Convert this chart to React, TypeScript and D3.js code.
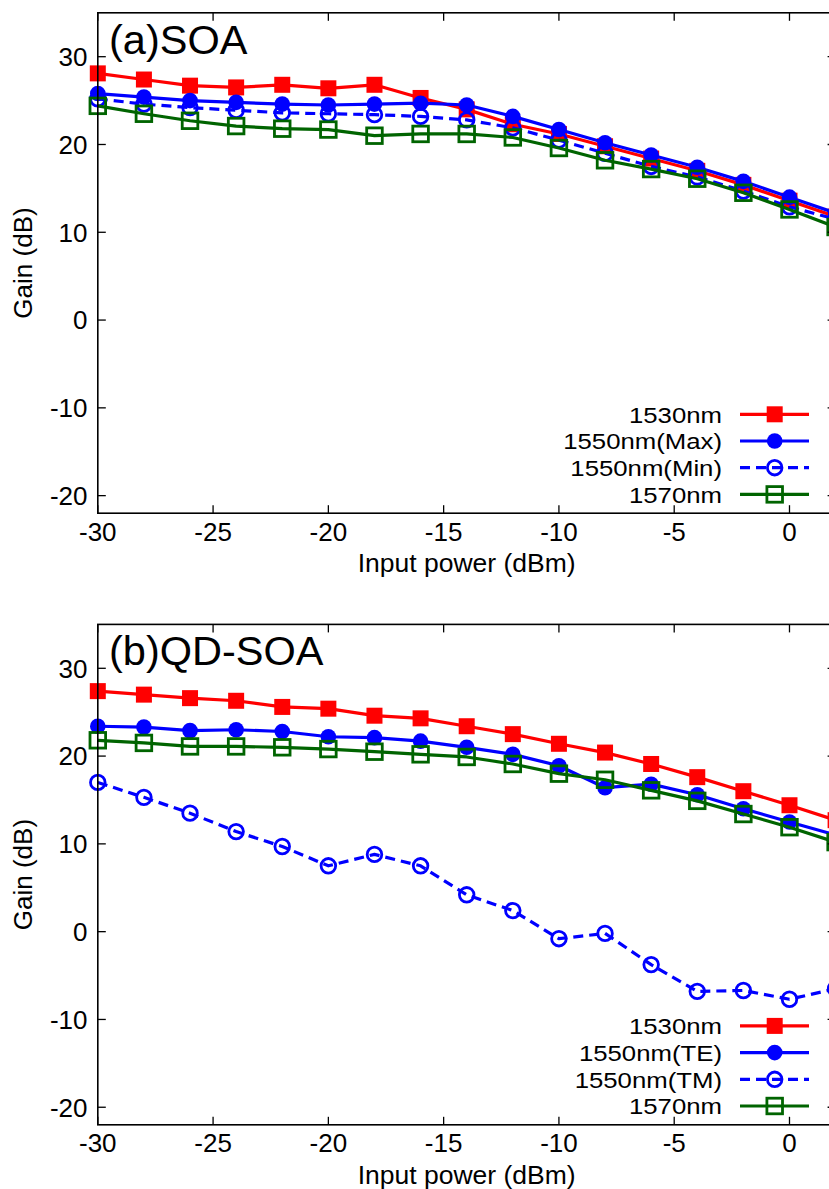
import React from "react";
import * as d3 from "d3";

const X = [-30, -28, -26, -24, -22, -20, -18, -16, -14, -12, -10, -8, -6, -4, -2, 0, 2];

// Panel (a) SOA
const soa1530 = [28.1, 27.4, 26.7, 26.5, 26.8, 26.4, 26.8, 25.3, 24.0, 22.3, 21.2, 19.8, 18.4, 17.0, 15.4, 13.6, 11.8];
const soa1550Max = [25.8, 25.4, 25.0, 24.8, 24.6, 24.5, 24.6, 24.7, 24.5, 23.2, 21.7, 20.2, 18.8, 17.4, 15.8, 14.0, 12.2];
const soa1550Min = [25.2, 24.6, 24.2, 23.9, 23.6, 23.5, 23.4, 23.2, 22.8, 21.9, 20.5, 19.0, 17.5, 16.3, 14.7, 12.9, 11.5];
const soa1570 = [24.4, 23.5, 22.7, 22.1, 21.8, 21.7, 21.0, 21.2, 21.2, 20.8, 19.6, 18.2, 17.2, 16.1, 14.5, 12.6, 10.6];

// Panel (b) QD-SOA
const qd1530 = [27.4, 27.0, 26.6, 26.3, 25.6, 25.4, 24.6, 24.3, 23.4, 22.5, 21.4, 20.4, 19.1, 17.6, 16.0, 14.4, 12.7];
const qd1550TE = [23.4, 23.3, 22.9, 23.0, 22.8, 22.2, 22.1, 21.7, 21.0, 20.2, 18.9, 16.4, 16.8, 15.6, 14.0, 12.5, 11.0];
const qd1550TM = [17.0, 15.3, 13.5, 11.4, 9.7, 7.5, 8.8, 7.5, 4.2, 2.4, -0.8, -0.2, -3.75, -6.8, -6.7, -7.7, -6.5];
const qd1570 = [21.8, 21.5, 21.1, 21.1, 21.0, 20.8, 20.5, 20.2, 19.9, 19.1, 18.0, 17.3, 16.1, 14.9, 13.4, 11.9, 10.2];

const xTicks = [-30, -25, -20, -15, -10, -5, 0];
const yTicks = [-20, -10, 0, 10, 20, 30];

const legendA = ["1530nm", "1550nm(Max)", "1550nm(Min)", "1570nm"];
const legendB = ["1530nm", "1550nm(TE)", "1550nm(TM)", "1570nm"];

const RED = "#ff0000";
const BLUE = "#0000ff";
const GREEN = "#006400";
const FONT = "'Liberation Sans', Arial, Helvetica, sans-serif";

type Kind = "fsquare" | "fcircle" | "ocircle" | "osquare";

function Marker({ kind, x, y, color }: { kind: Kind; x: number; y: number; color: string }) {
  if (kind === "fsquare") return <rect x={x - 8} y={y - 8} width={16} height={16} fill={color} />;
  if (kind === "fcircle") return <circle cx={x} cy={y} r={7.8} fill={color} />;
  if (kind === "ocircle") return <circle cx={x} cy={y} r={7.3} fill="none" stroke={color} strokeWidth={2.8} />;
  return <rect x={x - 7.8} y={y - 7.8} width={15.6} height={15.6} fill="none" stroke={color} strokeWidth={2.8} />;
}

type Series = { values: number[]; color: string; kind: Kind; dashed: boolean };

function Panel({ offset, title, labels, series }: { offset: number; title: string; labels: string[]; series: Series[] }) {
  const left = 97.8, right = 835.6, top = 12.8 + offset, bottom = 513.2 + offset;
  const x = d3.scaleLinear().domain([-30, 2]).range([left, right]);
  const y = d3.scaleLinear().domain([-22, 35]).range([bottom, top]);
  const line = d3.line<number>().x((_, i) => x(X[i])).y((v) => y(v));
  const legY = (i: number) => 414.3 + offset + i * 26.7;
  return (
    <g>
      {series.map((s, si) => (
        <g key={si}>
          <path d={line(s.values) || ""} fill="none" stroke={s.color} strokeWidth={3.2}
            strokeDasharray={s.dashed ? "10,6" : undefined} strokeLinejoin="round" />
          {s.values.map((v, i) => (
            <Marker key={i} kind={s.kind} x={x(X[i])} y={y(v)} color={s.color} />
          ))}
        </g>
      ))}
      <rect x={left} y={top} width={right - left} height={bottom - top} fill="none" stroke="#000" strokeWidth={1.6} />
      {xTicks.map((t) => (
        <g key={"x" + t}>
          <line x1={x(t)} x2={x(t)} y1={bottom} y2={bottom - 8} stroke="#000" strokeWidth={1.3} />
          <line x1={x(t)} x2={x(t)} y1={top} y2={top + 8} stroke="#000" strokeWidth={1.3} />
          <text x={x(t)} y={bottom + 27.5} textAnchor="middle" fontSize={26} fontFamily={FONT}>{t}</text>
        </g>
      ))}
      {yTicks.map((t) => (
        <g key={"y" + t}>
          <line x1={left} x2={left + 8} y1={y(t)} y2={y(t)} stroke="#000" strokeWidth={1.3} />
          <line x1={right} x2={right - 8} y1={y(t)} y2={y(t)} stroke="#000" strokeWidth={1.3} />
          <text x={87.5} y={y(t)} dy="0.36em" textAnchor="end" fontSize={26} fontFamily={FONT}>{t}</text>
        </g>
      ))}
      <text x={(left + right) / 2} y={572 + offset} textAnchor="middle" fontSize={26.5} fontFamily={FONT}>Input power (dBm)</text>
      <text transform={`translate(32,${(top + bottom) / 2}) rotate(-90)`} textAnchor="middle" fontSize={26} fontFamily={FONT}>Gain (dB)</text>
      <text x={109} y={53.5 + offset} fontSize={41.5} fontFamily={FONT}>{title}</text>
      {series.map((s, i) => (
        <g key={"l" + i}>
          <text transform={`translate(722,${legY(i)}) scale(1.12,1)`} dy="0.36em" textAnchor="end" fontSize={23} fontFamily={FONT}>{labels[i]}</text>
          <line x1={740} x2={809} y1={legY(i)} y2={legY(i)} stroke={s.color} strokeWidth={3.2}
            strokeDasharray={s.dashed ? "10,6" : undefined} />
          <Marker kind={s.kind} x={774.7} y={legY(i)} color={s.color} />
        </g>
      ))}
    </g>
  );
}

export default function App() {
  const seriesA: Series[] = [
    { values: soa1530, color: RED, kind: "fsquare", dashed: false },
    { values: soa1550Max, color: BLUE, kind: "fcircle", dashed: false },
    { values: soa1550Min, color: BLUE, kind: "ocircle", dashed: true },
    { values: soa1570, color: GREEN, kind: "osquare", dashed: false },
  ];
  const seriesB: Series[] = [
    { values: qd1530, color: RED, kind: "fsquare", dashed: false },
    { values: qd1550TE, color: BLUE, kind: "fcircle", dashed: false },
    { values: qd1550TM, color: BLUE, kind: "ocircle", dashed: true },
    { values: qd1570, color: GREEN, kind: "osquare", dashed: false },
  ];
  return (
    <svg width={829} height={1189} style={{ position: "absolute", left: 0, top: 0, background: "#fff" }}>
      <rect x={0} y={0} width={829} height={1189} fill="#fff" />
      <Panel offset={0} title="(a)SOA" labels={legendA} series={seriesA} />
      <Panel offset={611.6} title="(b)QD-SOA" labels={legendB} series={seriesB} />
    </svg>
  );
}
